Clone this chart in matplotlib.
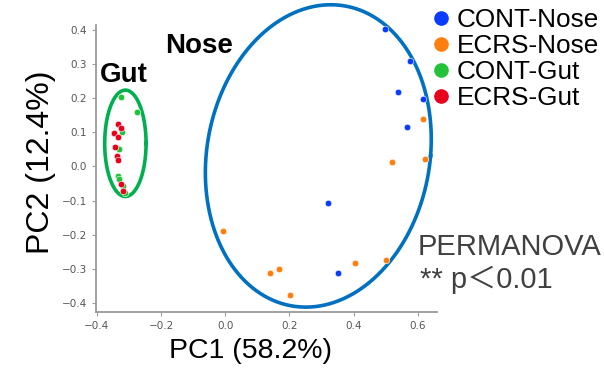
import matplotlib
matplotlib.use("Agg")
import matplotlib.pyplot as plt
from matplotlib.lines import Line2D
import numpy as np

# PCA scores
cont_nose_x = [0.498, 0.577, 0.538, 0.617, 0.567, 0.319, 0.352]
cont_nose_y = [0.402, 0.309, 0.220, 0.199, 0.116, -0.108, -0.311]
ecrs_nose_x = [0.615, 0.624, 0.521, 0.403, 0.502, -0.006, 0.140, 0.167, 0.202]
ecrs_nose_y = [0.138, 0.022, 0.014, -0.284, -0.273, -0.189, -0.313, -0.300, -0.377]
cont_gut_x = [-0.324, -0.274, -0.322, -0.332, -0.336, -0.331, -0.320, -0.312]
cont_gut_y = [0.205, 0.161, 0.102, 0.051, -0.027, -0.037, -0.057, -0.079]
ecrs_gut_x = [-0.334, -0.326, -0.347, -0.336, -0.345, -0.339, -0.334, -0.326, -0.318]
ecrs_gut_y = [0.124, 0.112, 0.097, 0.087, 0.058, 0.031, 0.019, -0.052, -0.072]

groups = ["CONT-Nose", "ECRS-Nose", "CONT-Gut", "ECRS-Gut"]
colors = ["#0a3cff", "#ff7f0e", "#22c33b", "#e8001c"]

pc1_label = "PC1 (58.2%)"
pc2_label = "PC2 (12.4%)"

big_font = ["Liberation Sans", "Noto Sans CJK JP", "DejaVu Sans"]

fig = plt.figure(figsize=(6.04, 3.68), dpi=100)
ax = fig.add_axes([0.159, 0.152, 0.5645, 0.78])

series = [
    (cont_nose_x, cont_nose_y),
    (ecrs_nose_x, ecrs_nose_y),
    (cont_gut_x, cont_gut_y),
    (ecrs_gut_x, ecrs_gut_y),
]
for (xs, ys), c in zip(series, colors):
    ax.scatter(xs, ys, s=22, color=c, edgecolor="white", linewidth=0.4,
               zorder=3, clip_on=False)


# cluster ellipses (sheared to lean a little)
def draw_ellipse(cx, cy, rx, ry, lean, color):
    t = np.linspace(0, 2 * np.pi, 300)
    ex = cx + rx * np.cos(t) + lean * np.sin(t)
    ey = cy + ry * np.sin(t)
    ax.plot(ex, ey, color=color, lw=2.6, clip_on=False, zorder=2)


draw_ellipse(0.290, 0.031, 0.350, 0.4435, 0.039, "#0070c0")
draw_ellipse(-0.3115, 0.068, 0.0645, 0.156, 0.0, "#00b050")

ax.set_xlim(-0.403, 0.66)
ax.set_ylim(-0.427, 0.415)
ax.set_xticks([-0.4, -0.2, 0.0, 0.2, 0.4, 0.6])
ax.set_yticks([-0.4, -0.3, -0.2, -0.1, 0.0, 0.1, 0.2, 0.3, 0.4])

for side in ["top", "right"]:
    ax.spines[side].set_visible(False)
for side in ["left", "bottom"]:
    ax.spines[side].set_color("#9a9a9a")
    ax.spines[side].set_linewidth(1.3)
ax.tick_params(colors="#9a9a9a", labelcolor="#555555", labelsize=7.5,
               length=3, width=0.8)

fig.text(0.414, 0.046, pc1_label, fontsize=20.5, family=big_font,
         ha="center", va="center")
fig.text(0.068, 0.558, pc2_label, fontsize=23, family=big_font,
         ha="center", va="center", rotation=90)

fig.text(0.274, 0.875, "Nose", fontsize=20, family=big_font,
         fontweight="bold", va="center")
fig.text(0.166, 0.796, "Gut", fontsize=20, family=big_font,
         fontweight="bold", va="center")

fig.text(0.692, 0.329, "PERMANOVA", fontsize=21, family=big_font,
         color="#404040", va="center")
fig.text(0.695, 0.239, "** p＜0.01", fontsize=21, family=big_font,
         color="#404040", va="center")

handles = [Line2D([], [], ls="none", marker="o", markersize=9.5, color=c)
           for c in colors]
ax.legend(handles, groups, loc="upper left", bbox_to_anchor=(0.717, 0.978),
          bbox_transform=fig.transFigure, frameon=False, borderpad=0,
          borderaxespad=0, handlelength=0.6, handletextpad=0.3,
          labelspacing=0.08, prop={"family": big_font, "size": 18.8})

fig.savefig("out.png", dpi=100)
